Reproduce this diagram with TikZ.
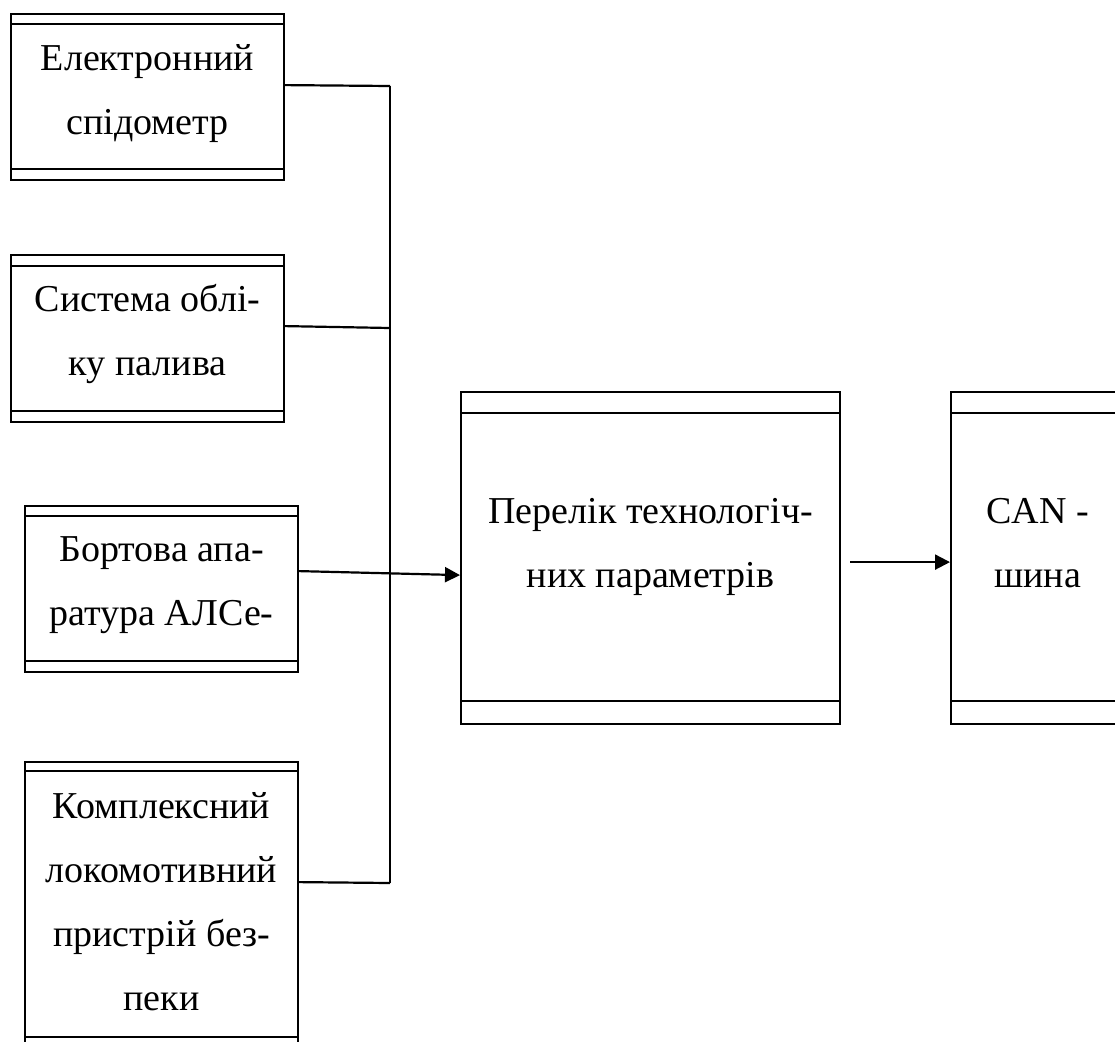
\documentclass[tikz,border=0pt]{standalone}
\usepackage{fontspec}
\setmainfont{Liberation Serif}
\usetikzlibrary{arrows.meta,calc}
% two thin bands inside a block: one under the top edge, one over the bottom edge
\newcommand\blockbands[3]{%
  \draw[wire] ($(#1.north west)+(0,#2)$) -- ($(#1.north east)+(0,#2)$);
  \draw[wire] ($(#1.south west)-(0,#3)$) -- ($(#1.south east)-(0,#3)$);}
% fixed first-line height and last-line depth, so every caption sits the same way
\newcommand\captext[1]{\rule{0pt}{26pt}#1\rule[-8.2pt]{0pt}{0pt}}
\begin{document}
\begin{tikzpicture}[x=1pt,y=-1pt,
  wire/.style={line width=2.2pt},
  blk/.style={draw, wire, anchor=north west, inner sep=0pt},
  txt/.style={inner sep=0pt, align=center, font=\fontsize{38}{64}\selectfont},
  arr/.style={wire,-{Triangle[length=15pt,width=15pt]}}]
\useasboundingbox (0,0) rectangle (1115,1041);

% source blocks
\node[blk, minimum width=273pt, minimum height=166pt] (speed) at (10,13) {};
\node[blk, minimum width=273pt, minimum height=167pt] (fuel) at (10,254) {};
\node[blk, minimum width=273pt, minimum height=166pt] (alse) at (24,505) {};
\node[blk, minimum width=273pt, minimum height=286pt] (klub) at (24,761) {};

% parameter list and bus
\node[blk, minimum width=379pt, minimum height=332pt] (params) at (460,391) {};
\node[blk, minimum width=165pt, minimum height=332pt] (can) at (950,391) {};

\blockbands{speed}{11}{12}
\blockbands{fuel}{12}{12}
\blockbands{alse}{11}{12}
\blockbands{klub}{10}{12}
\blockbands{params}{22}{24}
\blockbands{can}{22}{24}

% captions
\node[txt] (speed-t) at ([yshift=4pt]speed.center)
  {\captext{Електронний\\спідометр}};
\node[txt] (fuel-t) at ([yshift=5pt]fuel.center)
  {\captext{Система облі-\\ку палива}};
\node[txt] (alse-t) at ([yshift=4.5pt]alse.center)
  {\captext{Бортова апа-\\ратура АЛСе-}};
\node[txt] (klub-t) at (klub.center)
  {\captext{Комплексний\\локомотивний\\пристрій без-\\пеки}};
\node[txt] (params-t) at ([yshift=11.5pt]params.center)
  {\captext{Перелік технологіч-\\них параметрів}};
\node[txt] (can-t) at ([yshift=11.5pt,xshift=4pt]can.center)
  {\captext{CAN -\\шина}};

% collecting line
\coordinate (j1) at (390,86);
\coordinate (j2) at (390,328);
\coordinate (j4) at (390,883);
\draw[wire] ([yshift=12pt]speed.east) -- (j1);
\draw[wire] ([yshift=12.5pt]fuel.east) -- (j2);
\draw[wire] ([yshift=23pt]klub.east) -- (j4);
\draw[wire] (j1) -- (j4);
\draw[arr] ([yshift=18pt]alse.east) -- ([yshift=-17pt]params.west);
\draw[arr] ([yshift=-4pt,xshift=9pt]params.east) -- ([yshift=-4pt]can.west);
\end{tikzpicture}
\end{document}
